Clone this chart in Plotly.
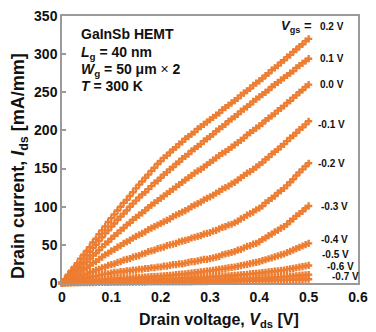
import plotly.graph_objects as go

# Drain voltage sweep [V]
VDS = [0, 0.00625, 0.0125, 0.01875, 0.025, 0.03125, 0.0375, 0.04375,
       0.05, 0.05625, 0.0625, 0.06875, 0.075, 0.08125, 0.0875, 0.09375,
       0.1, 0.10625, 0.1125, 0.11875, 0.125, 0.13125, 0.1375, 0.14375,
       0.15, 0.15625, 0.1625, 0.16875, 0.175, 0.18125, 0.1875, 0.19375,
       0.2, 0.20625, 0.2125, 0.21875, 0.225, 0.23125, 0.2375, 0.24375,
       0.25, 0.25625, 0.2625, 0.26875, 0.275, 0.28125, 0.2875, 0.29375,
       0.3, 0.30625, 0.3125, 0.31875, 0.325, 0.33125, 0.3375, 0.34375,
       0.35, 0.35625, 0.3625, 0.36875, 0.375, 0.38125, 0.3875, 0.39375,
       0.4, 0.40625, 0.4125, 0.41875, 0.425, 0.43125, 0.4375, 0.44375,
       0.45, 0.45625, 0.4625, 0.46875, 0.475, 0.48125, 0.4875, 0.49375, 0.5]

# Drain current [mA/mm] for each gate voltage
ID_P02 = [0, 5, 11, 16, 21, 26, 32, 37,
          42, 47, 53, 58, 64, 69, 74, 80,
          85, 90, 95, 100, 105, 109, 114, 119,
          124, 129, 133, 138, 142, 147, 151, 156,
          160, 164, 167, 171, 175, 178, 182, 185,
          189, 192, 195, 198, 202, 205, 208, 211,
          214, 217, 220, 223, 227, 230, 233, 236,
          239, 242, 246, 249, 252, 255, 259, 262,
          265, 268, 272, 275, 279, 282, 285, 289,
          292, 296, 299, 303, 306, 310, 313, 317, 320]
ID_P01 = [0, 5, 9, 14, 18, 23, 27, 32,
          36, 41, 46, 50, 55, 60, 65, 69,
          74, 78, 83, 87, 91, 95, 100, 104,
          108, 112, 116, 119, 123, 127, 131, 134,
          138, 142, 145, 149, 152, 156, 159, 163,
          166, 169, 173, 176, 179, 182, 186, 189,
          192, 195, 199, 202, 205, 208, 212, 215,
          218, 221, 225, 228, 231, 234, 238, 241,
          244, 247, 250, 253, 257, 260, 263, 266,
          269, 272, 275, 278, 282, 285, 288, 291, 294]
ID_P00 = [0, 4, 7, 11, 14, 18, 21, 25,
          28, 32, 36, 39, 43, 47, 51, 54,
          58, 62, 65, 69, 72, 76, 79, 83,
          86, 89, 92, 95, 99, 102, 105, 108,
          111, 114, 117, 120, 123, 126, 129, 132,
          135, 138, 141, 144, 147, 149, 152, 155,
          158, 161, 164, 167, 170, 172, 175, 178,
          181, 184, 187, 190, 194, 197, 200, 203,
          206, 209, 213, 216, 219, 222, 226, 229,
          232, 236, 239, 243, 246, 250, 253, 257, 260]
ID_M01 = [0, 3, 5, 8, 10, 13, 15, 18,
          20, 23, 26, 28, 31, 34, 37, 39,
          42, 44, 47, 49, 52, 54, 56, 59,
          61, 63, 65, 67, 70, 72, 74, 76,
          78, 80, 82, 84, 87, 89, 91, 93,
          95, 97, 100, 102, 104, 106, 109, 111,
          113, 115, 118, 120, 123, 125, 127, 130,
          132, 135, 138, 141, 144, 146, 149, 152,
          155, 158, 162, 165, 169, 172, 175, 179,
          182, 186, 190, 193, 197, 201, 204, 208, 212]
ID_M02 = [0, 2, 3, 5, 6, 8, 9, 11,
          12, 14, 15, 17, 18, 20, 21, 23,
          24, 25, 27, 28, 30, 31, 32, 34,
          35, 36, 38, 39, 41, 42, 43, 45,
          46, 47, 49, 50, 51, 52, 54, 55,
          56, 57, 59, 60, 61, 62, 64, 65,
          66, 68, 69, 71, 73, 74, 76, 77,
          79, 81, 84, 86, 89, 91, 93, 96,
          98, 101, 105, 108, 111, 114, 118, 121,
          124, 128, 132, 136, 141, 145, 149, 153, 157]
ID_M03 = [0, 1, 2, 3, 4, 4, 5, 6,
          7, 8, 9, 9, 10, 11, 12, 12,
          13, 14, 14, 15, 15, 16, 16, 17,
          17, 18, 18, 19, 19, 20, 20, 21,
          21, 22, 22, 23, 24, 24, 25, 25,
          26, 27, 28, 28, 29, 30, 31, 31,
          32, 33, 34, 35, 37, 38, 39, 40,
          41, 43, 44, 46, 48, 49, 51, 52,
          54, 57, 59, 62, 64, 67, 69, 72,
          74, 77, 81, 84, 88, 91, 94, 98, 101]
ID_M04 = [0, 0.4, 0.8, 1.1, 1.5, 1.9, 2.3, 2.6,
          3, 3.3, 3.5, 3.8, 4, 4.3, 4.5, 4.8,
          5, 5.3, 5.5, 5.8, 6, 6.3, 6.5, 6.8,
          7, 7.3, 7.5, 7.8, 8, 8.3, 8.5, 8.8,
          9, 9.4, 9.8, 10.1, 10.5, 10.9, 11.3, 11.6,
          12, 12.5, 13, 13.5, 14, 14.5, 15, 15.5,
          16, 16.6, 17.3, 17.9, 18.5, 19.1, 19.8, 20.4,
          21, 21.9, 22.8, 23.6, 24.5, 25.4, 26.3, 27.1,
          28, 29.3, 30.5, 31.8, 33, 34.3, 35.5, 36.8,
          38, 39.8, 41.5, 43.3, 45, 46.8, 48.5, 50.3, 52]
ID_M05 = [0, 0.3, 0.5, 0.8, 1, 1.3, 1.5, 1.8,
          2, 2.1, 2.3, 2.4, 2.5, 2.6, 2.8, 2.9,
          3, 3.1, 3.3, 3.4, 3.5, 3.6, 3.8, 3.9,
          4, 4.1, 4.3, 4.4, 4.5, 4.6, 4.8, 4.9,
          5, 5.1, 5.3, 5.4, 5.5, 5.6, 5.8, 5.9,
          6, 6.3, 6.5, 6.8, 7, 7.3, 7.5, 7.8,
          8, 8.3, 8.5, 8.8, 9, 9.3, 9.5, 9.8,
          10, 10.4, 10.8, 11.1, 11.5, 11.9, 12.3, 12.6,
          13, 13.5, 14, 14.5, 15, 15.5, 16, 16.5,
          17, 17.8, 18.5, 19.3, 20, 20.8, 21.5, 22.3, 23]
ID_M06 = [0, 0.1, 0.3, 0.4, 0.5, 0.6, 0.8, 0.9,
          1, 1.1, 1.1, 1.2, 1.3, 1.3, 1.4, 1.4,
          1.5, 1.6, 1.6, 1.7, 1.8, 1.8, 1.9, 1.9,
          2, 2.1, 2.1, 2.2, 2.3, 2.3, 2.4, 2.4,
          2.5, 2.6, 2.6, 2.7, 2.8, 2.8, 2.9, 2.9,
          3, 3.1, 3.3, 3.4, 3.5, 3.6, 3.8, 3.9,
          4, 4.1, 4.3, 4.4, 4.5, 4.6, 4.8, 4.9,
          5, 5.1, 5.3, 5.4, 5.5, 5.6, 5.8, 5.9,
          6, 6.3, 6.5, 6.8, 7, 7.3, 7.5, 7.8,
          8, 8.4, 8.8, 9.1, 9.5, 9.9, 10.3, 10.6, 11]
ID_M07 = [0, 0.1, 0.1, 0.2, 0.3, 0.3, 0.4, 0.4,
          0.5, 0.6, 0.6, 0.7, 0.8, 0.8, 0.9, 0.9,
          1, 1, 1, 1, 1, 1, 1, 1,
          1, 1.1, 1.1, 1.2, 1.3, 1.3, 1.4, 1.4,
          1.5, 1.5, 1.5, 1.5, 1.5, 1.5, 1.5, 1.5,
          1.5, 1.6, 1.6, 1.7, 1.8, 1.8, 1.9, 1.9,
          2, 2.1, 2.1, 2.2, 2.3, 2.3, 2.4, 2.4,
          2.5, 2.6, 2.6, 2.7, 2.8, 2.8, 2.9, 2.9,
          3, 3.1, 3.3, 3.4, 3.5, 3.6, 3.8, 3.9,
          4, 4.1, 4.3, 4.4, 4.5, 4.6, 4.8, 4.9, 5]

SERIES = [ID_P02, ID_P01, ID_P00, ID_M01, ID_M02,
          ID_M03, ID_M04, ID_M05, ID_M06, ID_M07]
VGS_LABELS = ["0.2 V", "0.1 V", "0.0 V", "-0.1 V", "-0.2 V",
              "-0.3 V", "-0.4 V", "-0.5 V", "-0.6 V", "-0.7 V"]
# label anchor positions in paper coordinates (layout only)
LABEL_POS = [(0.866, 0.959), (0.866, 0.840), (0.866, 0.743), (0.859, 0.595),
             (0.859, 0.446), (0.869, 0.286), (0.869, 0.164), (0.873, 0.108),
             (0.889, 0.061), (0.905, 0.024)]

X_TICKS = [0, 0.1, 0.2, 0.3, 0.4, 0.5, 0.6]
Y_TICKS = [0, 50, 100, 150, 200, 250, 300, 350]

ORANGE = "#ED7D31"
FONT = "Liberation Sans, Arial, sans-serif"
GREY = "#9a9a9a"

fig = go.Figure()
for ys, lab in zip(SERIES, VGS_LABELS):
    fig.add_trace(go.Scatter(
        x=VDS, y=ys, mode="markers", name=lab, cliponaxis=False,
        marker=dict(symbol="cross", size=6, color=ORANGE, line=dict(width=0)),
        showlegend=False))

annotations = []
for (px, py), lab in zip(LABEL_POS, VGS_LABELS):
    annotations.append(dict(
        x=px, y=py, xref="paper", yref="paper", xanchor="left", yanchor="middle",
        text=lab, showarrow=False,
        font=dict(family=FONT, size=10, color="#111", weight="bold")))
annotations.append(dict(
    x=0.853, y=0.962, xref="paper", yref="paper", xanchor="right", yanchor="middle",
    text="<b><i>V</i><sub>gs</sub> =</b>", showarrow=False,
    font=dict(family=FONT, size=13, color="#111")))

INFO = ["<b>GaInSb HEMT</b>",
        "<b><i>L</i><sub>g</sub> = 40 nm</b>",
        "<b><i>W</i><sub>g</sub> = 50 μm</b> × <b>2</b>",
        "<b><i>T</i> = 300 K</b>"]
INFO_Y = [0.933, 0.862, 0.796, 0.736]
for t, yy in zip(INFO, INFO_Y):
    annotations.append(dict(
        x=0.056, y=yy, xref="paper", yref="paper", xanchor="left", yanchor="middle",
        text=t, showarrow=False, font=dict(family=FONT, size=14, color="#111")))

# axis titles
annotations.append(dict(
    x=0.529, y=-0.142, xref="paper", yref="paper", xanchor="center", yanchor="middle",
    text="<b>Drain voltage, <i>V</i><sub>ds</sub> [V]</b>", showarrow=False,
    font=dict(family=FONT, size=16, color="#111")))
annotations.append(dict(
    x=-0.144, y=0.44, xref="paper", yref="paper", xanchor="center", yanchor="middle",
    text="<b>Drain current, <i>I</i><sub>ds</sub> [mA/mm]</b>", showarrow=False,
    textangle=-90, font=dict(family=FONT, size=18, color="#111")))

fig.update_layout(
    width=376, height=332,
    margin=dict(l=62, r=8, t=14, b=49),
    paper_bgcolor="white", plot_bgcolor="white",
    font=dict(family=FONT, color="#111"),
    annotations=annotations,
    xaxis=dict(
        range=[0, 0.6], tickvals=X_TICKS, ticktext=["0", "0.1", "0.2", "0.3", "0.4", "0.5", "0.6"],
        showgrid=False, zeroline=False, showline=True, linecolor=GREY, linewidth=1.5,
        mirror=True, ticks="", tickfont=dict(family=FONT, size=14, color="#111", weight="bold")),
    yaxis=dict(
        range=[0, 350], tickvals=Y_TICKS,
        showgrid=False, zeroline=False, showline=True, linecolor=GREY, linewidth=1.5,
        mirror=True, ticks="inside", ticklen=4, tickcolor=GREY, tickwidth=1.5,
        tickfont=dict(family=FONT, size=14, color="#111", weight="bold")),
)

fig.write_html("out.html")
